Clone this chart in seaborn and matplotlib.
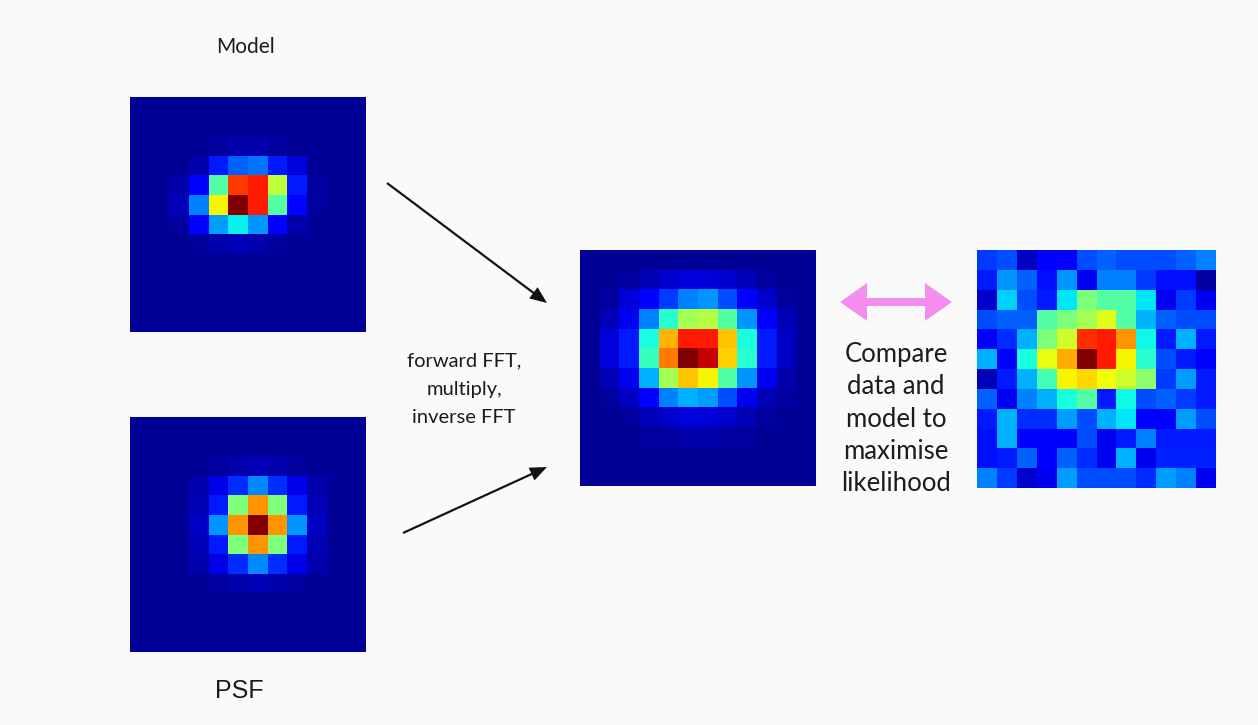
import numpy as np
import matplotlib
matplotlib.use("Agg")
import matplotlib.pyplot as plt
from matplotlib.patches import FancyArrow
import seaborn as sns

# Pixel values (jet colormap, 0..1)
model_img = [
    [.02, .02, .02, .02, .02, .02, .02, .02, .02, .02, .02, .02],
    [.02, .02, .02, .02, .02, .02, .02, .02, .02, .02, .02, .02],
    [.02, .02, .02, .02, .03, .04, .04, .03, .02, .02, .02, .02],
    [.02, .02, .02, .04, .15, .22, .24, .15, .08, .02, .02, .02],
    [.02, .02, .04, .12, .45, .85, .88, .58, .15, .03, .02, .02],
    [.02, .02, .05, .25, .65, 1.0, .88, .45, .13, .03, .02, .02],
    [.02, .02, .03, .12, .28, .36, .27, .12, .04, .02, .02, .02],
    [.02, .02, .02, .03, .04, .05, .04, .03, .02, .02, .02, .02],
    [.02, .02, .02, .02, .02, .02, .02, .02, .02, .02, .02, .02],
    [.02, .02, .02, .02, .02, .02, .02, .02, .02, .02, .02, .02],
    [.02, .02, .02, .02, .02, .02, .02, .02, .02, .02, .02, .02],
    [.02, .02, .02, .02, .02, .02, .02, .02, .02, .02, .02, .02],
]

psf_img = [
    [.02, .02, .02, .02, .02, .02, .02, .02, .02, .02, .02, .02],
    [.02, .02, .02, .02, .02, .02, .02, .02, .02, .02, .02, .02],
    [.02, .02, .02, .02, .03, .04, .05, .04, .03, .02, .02, .02],
    [.02, .02, .02, .04, .09, .17, .26, .17, .09, .04, .02, .02],
    [.02, .02, .02, .05, .15, .50, .75, .50, .15, .05, .02, .02],
    [.02, .02, .02, .06, .27, .75, 1.0, .75, .27, .06, .02, .02],
    [.02, .02, .02, .05, .15, .50, .75, .50, .15, .05, .02, .02],
    [.02, .02, .02, .04, .09, .17, .26, .17, .09, .04, .02, .02],
    [.02, .02, .02, .02, .03, .04, .05, .04, .03, .02, .02, .02],
    [.02, .02, .02, .02, .02, .02, .02, .02, .02, .02, .02, .02],
    [.02, .02, .02, .02, .02, .02, .02, .02, .02, .02, .02, .02],
    [.02, .02, .02, .02, .02, .02, .02, .02, .02, .02, .02, .02],
]

conv_img = [
    [.02, .02, .02, .02, .02, .02, .02, .02, .02, .02, .02, .02],
    [.02, .02, .03, .05, .07, .08, .08, .07, .05, .03, .02, .02],
    [.02, .03, .08, .12, .18, .25, .27, .20, .12, .07, .03, .02],
    [.02, .05, .10, .25, .40, .55, .57, .45, .27, .12, .05, .02],
    [.02, .08, .15, .38, .72, .88, .88, .70, .38, .15, .06, .02],
    [.02, .08, .15, .42, .78, 1.0, .94, .69, .40, .15, .06, .02],
    [.02, .05, .10, .30, .55, .70, .65, .45, .27, .10, .04, .02],
    [.02, .03, .06, .12, .25, .30, .28, .20, .10, .05, .03, .02],
    [.02, .02, .03, .05, .07, .08, .08, .07, .05, .03, .02, .02],
    [.02, .02, .02, .03, .03, .04, .04, .03, .03, .02, .02, .02],
    [.02, .02, .02, .02, .02, .02, .02, .02, .02, .02, .02, .02],
    [.02, .02, .02, .02, .02, .02, .02, .02, .02, .02, .02, .02],
]

data_img = [
    [.18, .20, .06, .12, .12, .20, .22, .20, .20, .20, .22, .25],
    [.15, .27, .22, .14, .27, .10, .25, .25, .18, .14, .14, .03],
    [.07, .33, .20, .15, .35, .50, .45, .45, .35, .10, .18, .10],
    [.20, .22, .22, .45, .50, .55, .62, .45, .30, .22, .20, .20],
    [.12, .17, .30, .50, .60, .86, .88, .75, .37, .15, .30, .15],
    [.30, .12, .38, .63, .73, 1.0, .88, .65, .40, .20, .15, .12],
    [.05, .15, .30, .43, .65, .68, .64, .60, .52, .18, .28, .15],
    [.22, .10, .25, .30, .38, .45, .15, .37, .20, .22, .18, .15],
    [.15, .30, .17, .17, .28, .20, .30, .35, .12, .12, .28, .20],
    [.14, .30, .12, .12, .12, .20, .10, .15, .25, .15, .15, .15],
    [.14, .15, .22, .12, .22, .17, .10, .30, .10, .16, .16, .16],
    [.25, .18, .07, .10, .28, .20, .20, .20, .17, .28, .25, .10],
]

mid_label = "forward FFT,\nmultiply,\ninverse FFT"
right_label = "Compare\ndata and\nmodel to\nmaximise\nlikelihood"

W, H = 1258, 725
sns.set_theme(style="white")
plt.rcParams['font.family'] = ['Lato', 'DejaVu Sans']

fig = plt.figure(figsize=(W / 100, H / 100), dpi=100)
fig.patch.set_facecolor('#fafafa')


def panel(img, left, top, right, bottom):
    # box given in pixels from top-left
    ax = fig.add_axes([left / W, 1 - bottom / H, (right - left) / W, (bottom - top) / H])
    sns.heatmap(np.array(img), ax=ax, cmap='jet', vmin=0, vmax=1, cbar=False,
                xticklabels=False, yticklabels=False, square=False)
    ax.set_xticks([])
    ax.set_yticks([])
    return ax


panel(model_img, 130, 97, 366, 332)
panel(psf_img, 130, 417, 366, 652)
panel(conv_img, 580, 250, 816, 486)
panel(data_img, 977, 250, 1216, 488)

# overlay in pixel coordinates for text and arrows
ov = fig.add_axes([0, 0, 1, 1])
ov.set_xlim(0, W)
ov.set_ylim(H, 0)
ov.axis('off')

txt = '#1c1c1c'
ov.text(245, 47, "Model", ha='center', va='center', fontsize=15, color=txt)
ov.text(239, 691, "PSF", ha='center', va='center', fontsize=18, color=txt,
        family=['Liberation Sans', 'DejaVu Sans'])
ov.text(464, 389, mid_label, ha='center', va='center', fontsize=14.5, color=txt,
        linespacing=1.8, multialignment='center')
ov.text(896, 419, right_label, ha='center', va='center', fontsize=18.5, color=txt,
        linespacing=1.37, multialignment='center')

# black arrows into the convolved model
for (x0, y0, x1, y1) in [(387, 183, 547, 303), (403, 533, 547, 467)]:
    ov.add_patch(FancyArrow(x0, y0, x1 - x0, y1 - y0, width=2.2, head_width=14,
                            head_length=17, length_includes_head=True,
                            color='#111111', lw=0))

# pink double-headed arrow
pink = '#f38ef0'
for x1 in (840, 952):
    ov.add_patch(FancyArrow(896, 302, x1 - 896, 0, width=8, head_width=38,
                            head_length=27, length_includes_head=True,
                            color=pink, lw=0))

fig.savefig('out.png', dpi=100, facecolor=fig.get_facecolor())
